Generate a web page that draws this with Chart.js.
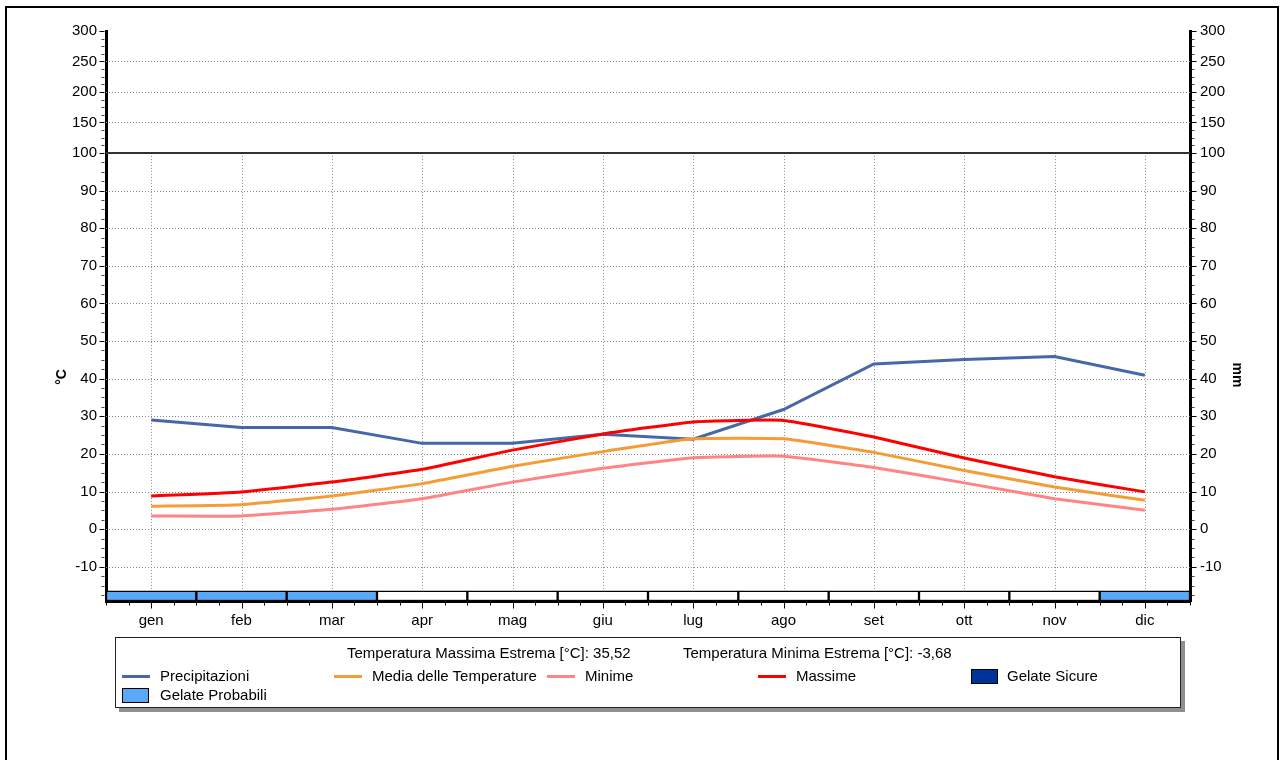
<!DOCTYPE html>
<html lang="it">
  <head>
    <meta charset="UTF-8" />
    <title>Diagramma climatico</title>
    <script src="https://cdn.jsdelivr.net/npm/chart.js"></script>
    <style>
      html, body { margin: 0; padding: 0; overflow: hidden; background: #fff; }
      body { width: 1283px; height: 760px; position: relative; font-family: "Liberation Sans", Arial, sans-serif; }
      #frame { position: absolute; left: 5px; top: 6px; width: 1270px; height: 800px; border: 2px solid #000; }
      #clima { position: absolute; left: 0; top: 0; }
      #legenda {
        position: absolute; left: 115px; top: 637px; width: 1064px; height: 69px;
        border: 1px solid #222; background: #fff; box-shadow: 4px 4px 0 #8f8f8f;
        font-size: 15px; color: #000;
      }
      #legenda span { position: absolute; white-space: nowrap; line-height: 18px; }
      #legenda .seg { height: 3px; width: 28px; }
      #legenda .box { width: 25px; height: 13px; border: 1px solid #000; }
    </style>
  </head>

  <body>
    <div id="frame"></div>
    <canvas id="clima" width="1283" height="640"></canvas>
    <div id="legenda"></div>

    <script>
      // Dati
      const mesi = ["gen", "feb", "mar", "apr", "mag", "giu", "lug", "ago", "set", "ott", "nov", "dic"];
      const precipitazioni = [29, 27, 27, 22.8, 22.8, 25.2, 23.9, 31.8, 43.9, 45.1, 45.9, 40.9];
      const mediaTemperature = [6.1, 6.5, 8.8, 12.1, 16.7, 20.6, 24.0, 24.0, 20.4, 15.6, 11.2, 7.7];
      const minime = [3.5, 3.5, 5.3, 8.1, 12.5, 16.2, 19.0, 19.4, 16.4, 12.3, 8.1, 5.0];
      const massime = [8.8, 9.9, 12.5, 15.9, 21.0, 25.3, 28.5, 28.9, 24.5, 18.9, 13.9, 9.9];
      const gelate = ["probabili", "probabili", "probabili", "no", "no", "no", "no", "no", "no", "no", "no", "probabili"];

      const tickTemperatura = [-10, 0, 10, 20, 30, 40, 50, 60, 70, 80, 90, 100];
      const tickMmSopra100 = [150, 200, 250, 300];

      const tempMassimaEstrema = "35,52";
      const tempMinimaEstrema = "-3,68";

      // sopra i 100 la scala e' compressa
      const compressione = 0.162;
      const toAxis = (v) => (v <= 100 ? v : 100 + (v - 100) * compressione);
      const fromAxis = (v) => (v <= 100.01 ? Math.round(v) : Math.round(100 + (v - 100) / compressione));

      const colori = {
        precip: "#4767a8",
        media: "#f49d37",
        minime: "#ff8585",
        massime: "#ff0000",
        probabili: "#58aaf8",
        sicure: "#003399",
        no: "#ffffff",
      };

      const asseMin = -19.1;
      const asseMax = toAxis(300);
      const fasciaGelate = [-16.4, asseMin];

      Chart.defaults.font.family = '"Liberation Sans", Arial, sans-serif';
      Chart.defaults.font.size = 15;
      Chart.defaults.color = "#000";

      const yAxisBase = {
        type: "linear",
        min: asseMin,
        max: asseMax,
        grid: { drawOnChartArea: false, drawTicks: false },
        border: { display: true, color: "#000", width: 3 },
        afterBuildTicks(scale) {
          scale.ticks = [...tickTemperatura, ...tickMmSopra100].map((v) => ({ value: toAxis(v) }));
        },
        ticks: { autoSkip: false, callback: (v) => String(fromAxis(v)) },
      };

      const pianoPlugin = {
        id: "piano",
        beforeDatasetsDraw(chart) {
          const { ctx, chartArea: a, scales } = chart;
          const x = scales.x, y = scales.y;
          const line = (x1, y1, x2, y2) => {
            ctx.beginPath();
            ctx.moveTo(x1, y1);
            ctx.lineTo(x2, y2);
            ctx.stroke();
          };
          ctx.save();
          ctx.strokeStyle = "#8c8c8c";
          ctx.lineWidth = 1;
          ctx.setLineDash([1, 2]);
          y.ticks.forEach((t) => {
            if (t.value === 100 || t.value >= y.max - 0.01) return;
            const py = Math.round(y.getPixelForValue(t.value)) + 0.5;
            line(a.left, py, a.right, py);
          });
          const y100 = y.getPixelForValue(100);
          mesi.forEach((m, i) => {
            const px = Math.round(x.getPixelForValue(i)) + 0.5;
            line(px, y100, px, a.bottom);
          });
          ctx.setLineDash([]);
          ctx.strokeStyle = "#333";
          ctx.lineWidth = 2;
          line(a.left, Math.round(y100), a.right, Math.round(y100));
          ctx.restore();
        },
        afterDraw(chart) {
          const { ctx, chartArea: a, scales } = chart;
          const x = scales.x, y = scales.y;
          ctx.save();
          ctx.strokeStyle = "#000";
          ctx.lineWidth = 1;
          const tacca = (x1, y1, x2, y2) => {
            ctx.beginPath();
            ctx.moveTo(x1, y1);
            ctx.lineTo(x2, y2);
            ctx.stroke();
          };
          // tacche asse y (sinistra e destra)
          const valori = [];
          for (let v = -17.5; v <= 100; v += 2.5) valori.push({ v, major: v % 10 === 0 });
          for (let v = 112.5; v <= 300; v += 12.5) valori.push({ v: toAxis(v), major: (v - 100) % 50 === 0 });
          valori.forEach(({ v, major }) => {
            const py = Math.round(y.getPixelForValue(v)) + 0.5;
            const len = major ? 5 : 3;
            ctx.strokeStyle = major ? "#000" : "#444";
            tacca(a.left - 1.5, py, a.left - 1.5 - len, py);
            tacca(a.right + 1.5, py, a.right + 1.5 + len, py);
          });
          // tacche asse x
          ctx.strokeStyle = "#000";
          for (let k = 0; k <= mesi.length * 4; k++) {
            const px = Math.round(x.getPixelForValue(-0.5 + k / 4)) + 0.5;
            const len = k % 4 === 2 ? 6 : 3;
            tacca(px, a.bottom + 1.5, px, a.bottom + 1.5 + len);
          }
          // titoli assi
          const yMid = (y.getPixelForValue(100) + a.bottom) / 2;
          ctx.fillStyle = "#000";
          ctx.font = 'bold 14px "Liberation Sans", Arial, sans-serif';
          ctx.textAlign = "center";
          ctx.textBaseline = "middle";
          ctx.translate(62, yMid);
          ctx.rotate(-Math.PI / 2);
          ctx.fillText("°C", 0, 0);
          ctx.setTransform(1, 0, 0, 1, 0, 0);
          ctx.translate(1237, yMid - 2);
          ctx.rotate(Math.PI / 2);
          ctx.fillText("mm", 0, 0);
          ctx.restore();
        },
      };

      const chart = new Chart(document.getElementById("clima"), {
        type: "line",
        data: {
          labels: mesi,
          datasets: [
            {
              type: "bar",
              label: "Gelate",
              data: mesi.map(() => fasciaGelate),
              backgroundColor: gelate.map((g) => colori[g]),
              borderColor: "#000",
              borderWidth: 1.5,
              borderSkipped: false,
              barPercentage: 1,
              categoryPercentage: 1,
              order: 10,
            },
            { label: "Precipitazioni", data: precipitazioni, borderColor: colori.precip, tension: 0, order: 4 },
            { label: "Media delle Temperature", data: mediaTemperature, borderColor: colori.media, tension: 0.12, order: 3 },
            { label: "Minime", data: minime, borderColor: colori.minime, tension: 0.12, order: 2 },
            { label: "Massime", data: massime, borderColor: colori.massime, tension: 0.12, order: 1 },
          ],
        },
        options: {
          responsive: false,
          animation: false,
          layout: { padding: { left: 0, right: 0, top: 31, bottom: 0 } },
          elements: {
            line: { borderWidth: 3, fill: false },
            point: { radius: 0 },
          },
          plugins: { legend: { display: false }, tooltip: { enabled: false } },
          scales: {
            x: {
              type: "category",
              offset: true,
              grid: { drawOnChartArea: false, drawTicks: false, offset: true },
              border: { display: true, color: "#000", width: 3 },
              ticks: { padding: 11, maxRotation: 0, autoSkip: false },
              afterFit(s) { s.height = 39; },
            },
            y: {
              ...yAxisBase,
              position: "left",
              ticks: { ...yAxisBase.ticks, padding: 9 },
              afterFit(s) { s.width = 106; },
            },
            y2: {
              ...yAxisBase,
              position: "right",
              ticks: { ...yAxisBase.ticks, padding: 10 },
              afterFit(s) { s.width = 93; },
            },
          },
        },
        plugins: [pianoPlugin],
      });

      // Legenda
      const legenda = document.getElementById("legenda");
      const aggiungi = (html, left, top, cls, style) => {
        const el = document.createElement("span");
        if (cls) el.className = cls;
        el.style.left = left + "px";
        el.style.top = top + "px";
        if (style) Object.assign(el.style, style);
        el.textContent = html || "";
        legenda.appendChild(el);
      };
      aggiungi("Temperatura Massima Estrema [°C]: " + tempMassimaEstrema, 231, 6);
      aggiungi("Temperatura Minima Estrema [°C]: " + tempMinimaEstrema, 567, 6);

      const colonne = [6, 218, 431, 642, 855];
      chart.data.datasets.slice(1).forEach((ds, i) => {
        aggiungi("", colonne[i], 37, "seg", { background: ds.borderColor });
        aggiungi(ds.label, colonne[i] + 38, 29);
      });
      aggiungi("", colonne[4], 31, "box", { background: colori.sicure });
      aggiungi("Gelate Sicure", colonne[4] + 36, 29);
      aggiungi("", colonne[0], 50, "box", { background: colori.probabili });
      aggiungi("Gelate Probabili", colonne[0] + 38, 48);
    </script>
  </body>
</html>
